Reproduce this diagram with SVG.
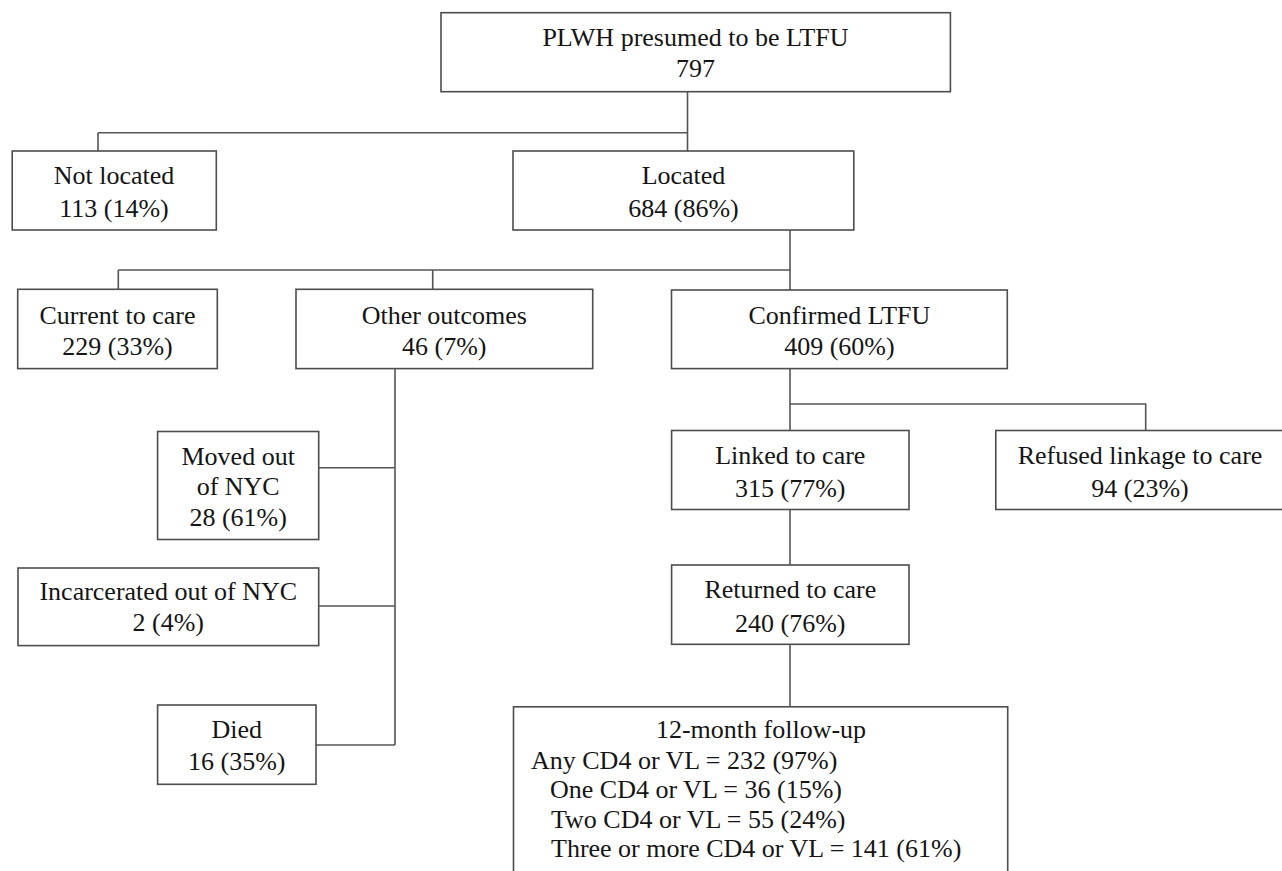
<svg xmlns="http://www.w3.org/2000/svg" width="1282" height="871" viewBox="0 0 1282 871">
<style>
.box{fill:#fff;stroke:#4d4d4d;stroke-width:1.6}
.ln{fill:none;stroke:#555;stroke-width:1.6}
text{font-family:"Liberation Serif","Times New Roman",serif;font-size:26px;fill:#151515;text-anchor:middle}
.l{text-anchor:start}
</style>
<rect width="1282" height="871" fill="#fff"/>
<g id="connectors">
<path class="ln" d="M687.5 91.7V151M98 132.7H687.5M98 132.7V151"/>
<path class="ln" d="M790 230V290M118.3 270H790M118.3 270V289.3M432.7 270V289.3"/>
<path class="ln" d="M395 368.5V745M318.7 467.7H395M318.7 606H395M316 745H395"/>
<path class="ln" d="M790 368.5V430.5M790 404H1145.7V430.5"/>
<path class="ln" d="M790 509.5V565M790 644.3V706.8"/>
</g>
<g id="n-top"><rect class="box" x="441" y="12.7" width="509.4" height="79"/><text x="695.5" y="45.7">PLWH presumed to be LTFU</text><text x="695.5" y="77.3">797</text></g>
<g id="n-notlocated"><rect class="box" x="12.2" y="151" width="204.1" height="79"/><text x="114" y="184.3">Not located</text><text x="114" y="216.5">113 (14%)</text></g>
<g id="n-located"><rect class="box" x="513" y="151" width="340.8" height="79"/><text x="683.5" y="184.3">Located</text><text x="683.5" y="216.5">684 (86%)</text></g>
<g id="n-current"><rect class="box" x="17.7" y="289.3" width="199.6" height="79.3"/><text x="117.5" y="323.5">Current to care</text><text x="117.5" y="354.6">229 (33%)</text></g>
<g id="n-other"><rect class="box" x="296" y="289.3" width="296.7" height="79.3"/><text x="444.3" y="323.5">Other outcomes</text><text x="444.3" y="354.6">46 (7%)</text></g>
<g id="n-confirmed"><rect class="box" x="671.5" y="290" width="335.8" height="78.6"/><text x="839.4" y="323.5">Confirmed LTFU</text><text x="839.4" y="354.6">409 (60%)</text></g>
<g id="n-moved"><rect class="box" x="157.6" y="431.5" width="161.1" height="108"/><text x="238.2" y="464.6">Moved out</text><text x="238.2" y="494.8">of NYC</text><text x="238.2" y="525.8">28 (61%)</text></g>
<g id="n-incarcerated"><rect class="box" x="18" y="568" width="300.7" height="77.6"/><text x="168.3" y="600.4">Incarcerated out of NYC</text><text x="168.3" y="631.4">2 (4%)</text></g>
<g id="n-died"><rect class="box" x="157.6" y="705" width="158.4" height="79.3"/><text x="236.8" y="737.5">Died</text><text x="236.8" y="769.8">16 (35%)</text></g>
<g id="n-linked"><rect class="box" x="671.6" y="430.5" width="237.4" height="79"/><text x="790.3" y="464">Linked to care</text><text x="790.3" y="496.5">315 (77%)</text></g>
<g id="n-refused"><rect class="box" x="995.8" y="430.5" width="290" height="79"/><text x="1140" y="464">Refused linkage to care</text><text x="1140" y="496.5">94 (23%)</text></g>
<g id="n-returned"><rect class="box" x="671.6" y="565" width="237.4" height="79.3"/><text x="790.3" y="598.3">Returned to care</text><text x="790.3" y="631.5">240 (76%)</text></g>
<g id="n-followup"><rect class="box" x="513.5" y="706.8" width="494.2" height="180"/><text x="761" y="738">12-month follow-up</text><text class="l" x="531" y="768.5">Any CD4 or VL = 232 (97%)</text><text class="l" x="550" y="798">One CD4 or VL = 36 (15%)</text><text class="l" x="551" y="827.5">Two CD4 or VL = 55 (24%)</text><text class="l" x="551" y="857">Three or more CD4 or VL = 141 (61%)</text></g>
</svg>
